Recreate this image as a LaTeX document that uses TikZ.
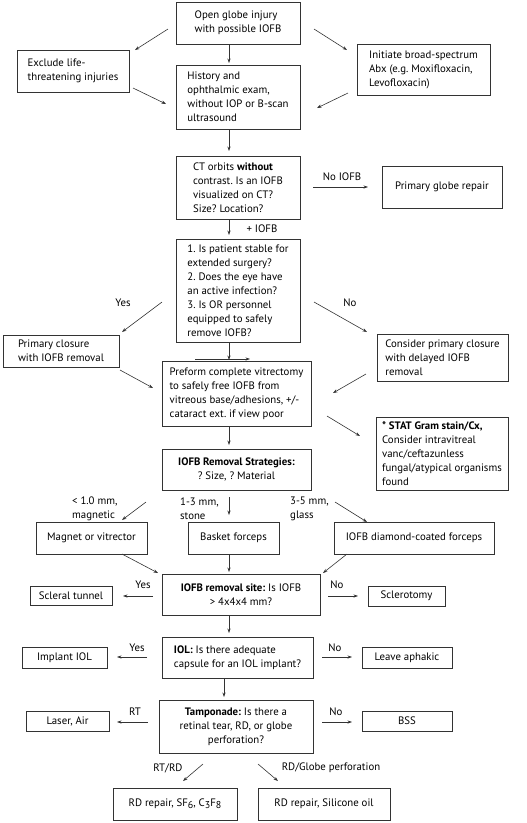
\documentclass[tikz,border=0pt]{standalone}
\usepackage{fontspec}
\setmainfont{PT Sans}
\usetikzlibrary{arrows.meta}
\newcommand{\sbs}[1]{\raisebox{-0.35ex}{\fontsize{10}{10}\selectfont #1}}
\begin{document}
\frenchspacing
\begin{tikzpicture}[x=1pt,y=-1pt,
  font=\fontsize{10.8}{14}\selectfont,
  box/.style={draw=black!80, line width=0.7pt, inner ysep=0pt, inner xsep=2pt, minimum height=#1},
  bw/.style={minimum width=#1},
  lft/.style={align=left},
  ctr/.style={align=center},
  arr/.style={draw=black!80, line width=0.6pt, -{Stealth[length=4.5pt,width=3.2pt]}},
  lbl/.style={inner sep=0pt, align=left}]
\useasboundingbox (0,0) rectangle (527,823);
% boxes
\node[box=42pt, lft, bw=124pt] (open) at (238,23) {Open globe injury\\with possible IOFB};
\node[box=42pt, lft, bw=112pt] (excl) at (73,71) {Exclude life-\\threatening injuries};
\node[box=64pt, lft, bw=124pt] (hist) at (238,97) {History and\\ophthalmic exam,\\without IOP or B-scan\\ultrasound};
\node[box=51pt, lft, bw=133pt] (abx) at (423.5,69.5) {Initiate broad-spectrum\\Abx (e.g. Moxifloxacin,\\Levofloxacin)};
\node[box=63pt, lft, bw=124pt] (ct) at (238,187.5) {CT orbits \textbf{without}\\contrast. Is an IOFB\\visualized on CT?\\Size? Location?};
\node[box=42pt, ctr, bw=120pt] (pgr) at (442,187) {Primary globe repair};
\node[box=103pt, lft, bw=124pt] (q) at (238,290.5) {1. Is patient stable for\\extended surgery?\\2. Does the eye have\\an active infection?\\3. Is OR personnel\\equipped to safely\\remove IOFB?};
\node[box=32pt, lft, bw=116pt] (pc) at (61,351) {Primary closure\\with IOFB removal};
\node[box=47pt, lft, bw=131pt] (cpc) at (442.5,357.5) {Consider primary closure\\with delayed IOFB\\removal};
\node[box=65pt, lft, bw=149pt] (vit) at (236.5,393.5) {Preform complete vitrectomy\\to safely free IOFB from\\vitreous base/adhesions, +/-\\cataract ext. if view poor};
\node[box=73pt, lft, bw=132pt] (stat) at (442,453.5) {\textbf{* STAT Gram stain/Cx,}\\Consider intravitreal\\vanc/ceftazunless\\fungal/atypical organisms\\found};
\node[box=41pt, ctr, bw=149pt] (strat) at (236.5,469.5) {\textbf{IOFB Removal Strategies:}\\? Size, ? Material};
\node[box=32pt, ctr, bw=111pt] (mag) at (91.5,538) {Magnet or vitrector};
\node[box=32pt, ctr, bw=91pt] (bask) at (233.5,538) {Basket forceps};
\node[box=32pt, ctr, bw=160pt] (diam) at (414,538) {IOFB diamond-coated forceps};
\node[box=41pt, ctr, bw=158pt] (site) at (241,594.5) {\textbf{IOFB removal site:} Is IOFB\\> 4x4x4 mm?};
\node[box=19pt, ctr, bw=82pt] (scl) at (71,595.5) {Scleral tunnel};
\node[box=20pt, ctr, bw=77pt] (sclt) at (406.5,596) {Sclerotomy};
\node[box=41pt, lft, bw=151pt] (iol) at (237.5,657.5) {\textbf{IOL:} Is there adequate\\capsule for an IOL implant?};
\node[box=21pt, ctr, bw=85pt] (imp) at (64.5,657.5) {Implant IOL};
\node[box=21pt, ctr, bw=90pt] (aph) at (407,657.5) {Leave aphakic};
\node[box=53pt, ctr, bw=154pt] (tamp) at (236,726.5) {\textbf{Tamponade:} Is there a\\retinal tear, RD, or globe\\perforation?};
\node[box=20pt, ctr, bw=83pt] (laser) at (67.5,721) {Laser, Air};
\node[box=20pt, ctr, bw=90pt] (bss) at (407,721) {BSS};
\node[box=32pt, ctr, bw=124pt] (sf) at (175,804) {RD repair, SF\sbs{6}, C\sbs{3}F\sbs{8}};
\node[box=32pt, ctr, bw=132pt] (oil) at (324,804) {RD repair, Silicone oil};
% arrow end points
\coordinate (a1s) at (168,29);  \coordinate (a1e) at (135,50);
\coordinate (a2s) at (229,44);  \coordinate (a2e) at (229,63);
\coordinate (a3s) at (314,29);  \coordinate (a3e) at (347,50);
\coordinate (a4s) at (133,88);  \coordinate (a4e) at (166,104);
\coordinate (a5s) at (348,93);  \coordinate (a5e) at (317,108);
\coordinate (a6s) at (229,129); \coordinate (a6e) at (229,151);
\coordinate (a7s) at (313,187); \coordinate (a7e) at (368,187);
\coordinate (a8s) at (229,219); \coordinate (a8e) at (229,235);
\coordinate (a9s) at (162,302); \coordinate (a9e) at (122,332);
\coordinate (a10s) at (314,302); \coordinate (a10e) at (367,332);
\coordinate (a11s) at (229,342); \coordinate (a11e) at (229,360);
\coordinate (a11bs) at (195,359); \coordinate (a11be) at (250,359);
\coordinate (a12s) at (120,370); \coordinate (a12e) at (153,388);
\coordinate (a13s) at (366,374); \coordinate (a13e) at (333,393);
\coordinate (a14s) at (327,416); \coordinate (a14e) at (360,436);
\coordinate (a15s) at (229,427); \coordinate (a15e) at (229,445);
\coordinate (a16s) at (146,502); \coordinate (a16e) at (122,520);
\coordinate (a17s) at (229,497); \coordinate (a17e) at (229,515);
\coordinate (a18s) at (335,502); \coordinate (a18e) at (367,522);
\coordinate (a19s) at (122,554); \coordinate (a19e) at (158,573);
\coordinate (a20s) at (229,554); \coordinate (a20e) at (229,572);
\coordinate (a21s) at (347,554); \coordinate (a21e) at (323,573);
\coordinate (a22s) at (153,596); \coordinate (a22e) at (123,596);
\coordinate (a23s) at (328,596); \coordinate (a23e) at (358,596);
\coordinate (a24s) at (229,615); \coordinate (a24e) at (229,633);
\coordinate (a25s) at (147,657); \coordinate (a25e) at (117,657);
\coordinate (a26s) at (322,657); \coordinate (a26e) at (352,657);
\coordinate (a27s) at (224,678); \coordinate (a27e) at (224,697);
\coordinate (a28s) at (148,722); \coordinate (a28e) at (117,722);
\coordinate (a29s) at (322,722); \coordinate (a29e) at (352,722);
\coordinate (a30s) at (203,764); \coordinate (a30e) at (183,781);
\coordinate (a31s) at (258,764); \coordinate (a31e) at (278,781);
% arrows
\foreach \i in {1,...,31} {\draw[arr] (a\i s) -- (a\i e);}
\draw[arr] (a11bs) -- (a11be);
% labels
\node[lbl] (l7) at (342,177) {No IOFB};
\node[lbl] (l8) at (262,229) {+ IOFB};
\node[lbl] (l9) at (123,303) {Yes};
\node[lbl] (l10) at (350,303) {No};
\node[lbl, anchor=west] (l16) at (72,509) {< 1.0 mm,\\magnetic};
\node[lbl, anchor=west] (l17) at (180,509) {1-3 mm,\\stone};
\node[lbl, anchor=west] (l18) at (290,509) {3-5 mm,\\glass};
\node[lbl] (l22) at (143,585) {Yes};
\node[lbl] (l23) at (337,585) {No};
\node[lbl] (l25) at (137,648) {Yes};
\node[lbl] (l26) at (335,648) {No};
\node[lbl] (l28) at (135,712) {RT};
\node[lbl] (l29) at (336,712) {No};
\node[lbl] (l30) at (168,768) {RT/RD};
\node[lbl] (l31) at (331,768) {RD/Globe perforation};
\end{tikzpicture}
\end{document}
